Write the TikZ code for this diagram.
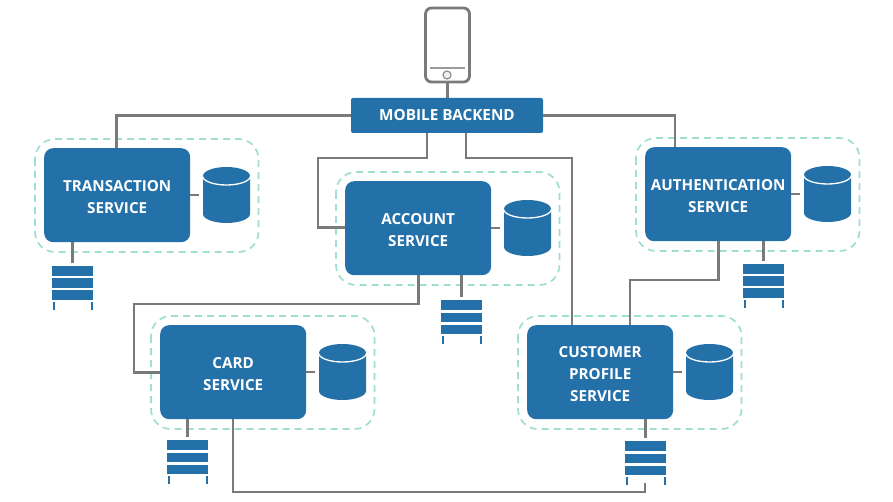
\documentclass[tikz,border=0pt]{standalone}
\usepackage{fontspec}
\setmainfont{Open Sans}
\definecolor{svcblue}{HTML}{2471A9}
\definecolor{linegrey}{HTML}{7A7A7A}
\definecolor{dashgreen}{HTML}{A0DED2}
\tikzset{
  svcbox/.style={draw=none,fill=svcblue,rounded corners=9pt,minimum width=146pt,minimum height=94pt,inner sep=0pt,
    text=white,align=center,font=\fontsize{15.2}{22}\selectfont\bfseries},
  svclabel/.style={text=white,align=center,inner sep=0pt,font=\fontsize{15.2}{22}\selectfont\bfseries},
  backendbox/.style={draw=none,fill=svcblue,rounded corners=2pt,minimum width=192pt,minimum height=35pt,inner sep=0pt,
    text=white,font=\fontsize{15.3}{17}\selectfont\bfseries},
  halo/.style={draw=dashgreen,line width=1.7pt,dash pattern=on 7pt off 5pt,rounded corners=20pt},
  wire/.style={draw=linegrey,line width=2.7pt},
  phoneline/.style={draw=linegrey,line width=2.8pt,rounded corners=6pt},
}
% \service{name}{left}{top}{text}
\newcommand{\service}[4]{%
  \draw[halo] (#2-9,#3-9) rectangle (#2+214.5,#3+104);
  \node[svcbox,anchor=north west,text depth=0pt] (#1) at (#2,#3) {};
  \node[svclabel] (#1text) at ([yshift=-1.5pt]#1.center) {#4};
  % database
  \fill[svcblue] (#2+159,#3+28) -- (#2+159,#3+66) arc[start angle=180,end angle=360,x radius=23.5pt,y radius=9pt]
     -- (#2+206,#3+28) arc[start angle=0,end angle=180,x radius=23.5pt,y radius=9pt] -- cycle;
  \draw[white,line width=1.3pt] (#2+158.5,#3+28) arc[start angle=180,end angle=360,x radius=24pt,y radius=9pt];
  \coordinate (#1db) at (#2+155,#3+47);
  \draw[wire] (#1.east |- #1db) -- (#1db);
}
% \queue{name}{left}{top}
\newcommand{\queue}[3]{%
  \fill[svcblue] (#2,#3) rectangle (#2+41,#3+10);
  \fill[svcblue] (#2,#3+12.5) rectangle (#2+41,#3+22);
  \fill[svcblue] (#2,#3+24.5) rectangle (#2+41,#3+34);
  \fill[svcblue] (#2+1,#3+36) rectangle (#2+3,#3+44);
  \fill[svcblue] (#2+38.5,#3+36) rectangle (#2+40.5,#3+44);
  \coordinate (#1) at (#2+20.5,#3-3);
}
\begin{document}
\begin{tikzpicture}[x=1pt,y=-1pt]
\useasboundingbox (0,0) rectangle (893,502);
\fill[white] (0,0) rectangle (893,502);

\service{tx}{44}{148}{TRANSACTION\\SERVICE}
\service{acc}{345}{181}{ACCOUNT\\SERVICE}
\service{card}{160}{325}{CARD\\SERVICE}
\service{cust}{527}{325}{CUSTOMER\\PROFILE\\SERVICE}
\service{auth}{645}{147}{AUTHENTICATION\\SERVICE}

\queue{qtx}{52}{266}
\queue{qacc}{441}{300}
\queue{qcard}{167}{440}
\queue{qcust}{625}{441}
\queue{qauth}{743}{264}

% phone
\node[phoneline,draw,minimum width=44pt,minimum height=74pt,inner sep=0pt] (phone) at (447.5,45) {};
\coordinate (phl) at (430,68);
\coordinate (phr) at (465,68);
\draw[draw=linegrey!75,line width=1.2pt] (phl) -- (phr);
\node[draw=linegrey!85,fill=black!6,line width=1.2pt,circle,minimum size=8pt,inner sep=0pt] (home) at (447,75) {};

\node[backendbox] (backend) at (447,115.5) {\raisebox{-1pt}{MOBILE BACKEND}};

% bends
\coordinate (b1) at (318,158);
\coordinate (b2) at (572,158);
\coordinate (b3) at (630,280);
\coordinate (b4) at (134,304);
\coordinate (b5) at (233,492);
\coordinate (b6) at (675,116);
\coordinate (qcustend) at (645,483);

\draw[wire] (phone.south) -- (phone.south |- backend.north);
\draw[wire] (backend.west) -| ([xshift=-0.5pt]tx.north);
\draw[wire] (backend.east) -| (b6) -- (b6 |- auth.north);
\draw[wire] ([xshift=-20pt]backend.south) |- (b1) |- ([yshift=1pt]acc.west);
\draw[wire] ([xshift=19pt]backend.south) |- (b2) -- (b2 |- cust.north);
\draw[wire] (auth.south) |- (b3) -- (b3 |- cust.north);
\draw[wire] (acc.south) |- (b4) |- (card.west);
\draw[wire] (card.south -| b5) -- (b5) -| (qcustend);

\draw[wire] (tx.south -| qtx) -- (qtx);
\draw[wire] (acc.south -| qacc) -- (qacc);
\draw[wire] (card.south -| qcard) -- (qcard);
\draw[wire] (cust.south -| qcust) -- (qcust);
\draw[wire] (auth.south -| qauth) -- (qauth);
\end{tikzpicture}
\end{document}
